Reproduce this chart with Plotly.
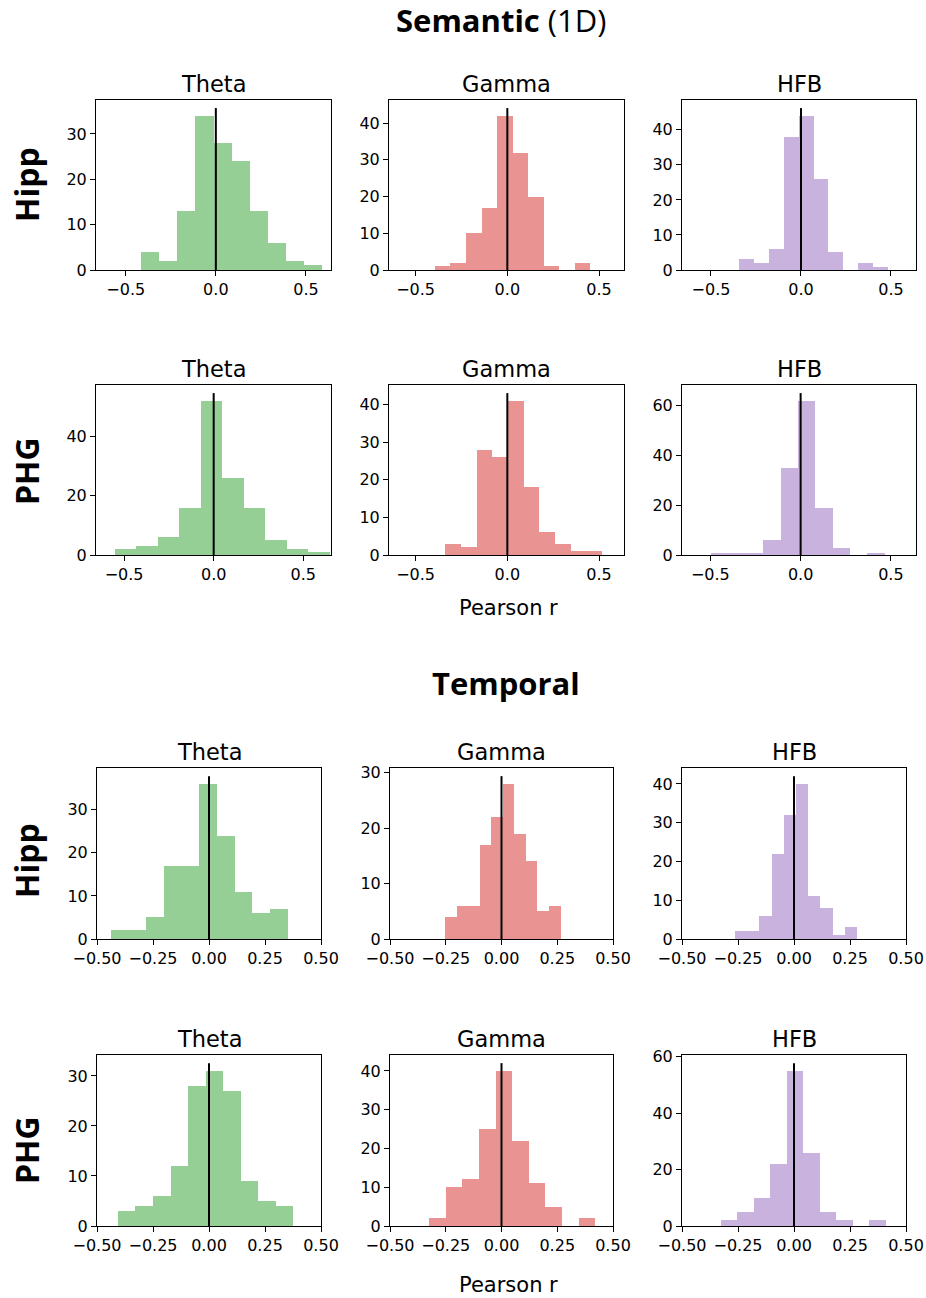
import plotly.graph_objects as go

# ---------------- data ----------------
bands = ["Theta", "Gamma", "HFB"]
regions = ["Hipp", "PHG"]
band_colors = ["rgba(44,160,44,0.5)", "rgba(214,39,40,0.5)", "rgba(148,103,189,0.5)"]

# Semantic (1D) – Hipp
sem_hipp_theta_start, sem_hipp_theta_width = -0.415, 0.1005
sem_hipp_theta_counts = [4, 2, 13, 34, 28, 24, 13, 6, 2, 1]
sem_hipp_gamma_start, sem_hipp_gamma_width = -0.395, 0.0848
sem_hipp_gamma_counts = [1, 2, 10, 17, 42, 32, 20, 1, 0, 2]
sem_hipp_hfb_start, sem_hipp_hfb_width = -0.344, 0.0828
sem_hipp_hfb_counts = [3, 2, 6, 38, 44, 26, 5, 0, 2, 1]
# Semantic (1D) – PHG
sem_phg_theta_start, sem_phg_theta_width = -0.553, 0.120
sem_phg_theta_counts = [2, 3, 6, 16, 52, 26, 16, 5, 2, 1]
sem_phg_gamma_start, sem_phg_gamma_width = -0.338, 0.0855
sem_phg_gamma_counts = [3, 2, 28, 26, 41, 18, 6, 3, 1, 1]
sem_phg_hfb_start, sem_phg_hfb_width = -0.495, 0.0960
sem_phg_hfb_counts = [1, 1, 1, 6, 35, 62, 19, 3, 0, 1]

# Temporal – Hipp
tmp_hipp_theta_start, tmp_hipp_theta_width = -0.437, 0.0788
tmp_hipp_theta_counts = [2, 2, 5, 17, 17, 36, 24, 11, 6, 7]
tmp_hipp_gamma_start, tmp_hipp_gamma_width = -0.253, 0.0518
tmp_hipp_gamma_counts = [4, 6, 6, 17, 22, 28, 19, 14, 5, 6]
tmp_hipp_hfb_start, tmp_hipp_hfb_width = -0.264, 0.0546
tmp_hipp_hfb_counts = [2, 2, 6, 22, 32, 40, 11, 8, 1, 3]
# Temporal – PHG
tmp_phg_theta_start, tmp_phg_theta_width = -0.407, 0.0784
tmp_phg_theta_counts = [3, 4, 6, 12, 28, 31, 27, 9, 5, 4]
tmp_phg_gamma_start, tmp_phg_gamma_width = -0.325, 0.0746
tmp_phg_gamma_counts = [2, 10, 12, 25, 40, 22, 11, 5, 0, 2]
tmp_phg_hfb_start, tmp_phg_hfb_width = -0.328, 0.0737
tmp_phg_hfb_counts = [2, 5, 10, 22, 55, 26, 5, 2, 0, 2]

sem_xticks = [-0.5, 0.0, 0.5]
sem_xticklabels = ["\u22120.5", "0.0", "0.5"]
tmp_xticks = [-0.5, -0.25, 0.0, 0.25, 0.5]
tmp_xticklabels = ["\u22120.50", "\u22120.25", "0.00", "0.25", "0.50"]

# ---------------- layout geometry (pixels) ----------------
W, H = 926, 1298
sem_cols = [(96, 331), (389, 624), (682, 916)]
sem_rows = [(100, 270), (385, 555)]
tmp_cols = [(97, 321), (390, 613), (682, 906)]
tmp_rows = [(768, 939), (1055, 1226)]
sem_xranges = [[-0.665, 0.639], [-0.645, 0.636], [-0.661, 0.639],
               [-0.657, 0.655], [-0.645, 0.636], [-0.657, 0.639]]

panels = [
    ("sem", 0, 0, sem_hipp_theta_start, sem_hipp_theta_width, sem_hipp_theta_counts),
    ("sem", 0, 1, sem_hipp_gamma_start, sem_hipp_gamma_width, sem_hipp_gamma_counts),
    ("sem", 0, 2, sem_hipp_hfb_start, sem_hipp_hfb_width, sem_hipp_hfb_counts),
    ("sem", 1, 0, sem_phg_theta_start, sem_phg_theta_width, sem_phg_theta_counts),
    ("sem", 1, 1, sem_phg_gamma_start, sem_phg_gamma_width, sem_phg_gamma_counts),
    ("sem", 1, 2, sem_phg_hfb_start, sem_phg_hfb_width, sem_phg_hfb_counts),
    ("tmp", 0, 0, tmp_hipp_theta_start, tmp_hipp_theta_width, tmp_hipp_theta_counts),
    ("tmp", 0, 1, tmp_hipp_gamma_start, tmp_hipp_gamma_width, tmp_hipp_gamma_counts),
    ("tmp", 0, 2, tmp_hipp_hfb_start, tmp_hipp_hfb_width, tmp_hipp_hfb_counts),
    ("tmp", 1, 0, tmp_phg_theta_start, tmp_phg_theta_width, tmp_phg_theta_counts),
    ("tmp", 1, 1, tmp_phg_gamma_start, tmp_phg_gamma_width, tmp_phg_gamma_counts),
    ("tmp", 1, 2, tmp_phg_hfb_start, tmp_phg_hfb_width, tmp_phg_hfb_counts),
]

MPL = "DejaVu Sans"
LABEL = "Open Sans"


def px_x(x):
    return x / W


def px_y(y):
    return 1 - y / H


fig = go.Figure()
layout = {}
annotations = []

for i, (block, r, c, start, width, counts) in enumerate(panels):
    n = i + 1
    xa = "x" if n == 1 else f"x{n}"
    ya = "y" if n == 1 else f"y{n}"
    cols = sem_cols if block == "sem" else tmp_cols
    rows = sem_rows if block == "sem" else tmp_rows
    x0, x1 = cols[c]
    y0, y1 = rows[r]

    centers = [start + width * (k + 0.5) for k in range(len(counts))]
    fig.add_trace(go.Bar(
        x=centers, y=counts, width=[width] * len(counts),
        marker=dict(color=band_colors[c], line=dict(width=0)),
        xaxis=xa, yaxis=ya, showlegend=False, hoverinfo="x+y",
    ))
    ymax = max(counts)
    fig.add_trace(go.Scatter(
        x=[0, 0], y=[0, ymax * 1.05], mode="lines",
        line=dict(color="black", width=2),
        xaxis=xa, yaxis=ya, showlegend=False, hoverinfo="skip",
    ))

    if block == "sem":
        xr = sem_xranges[i]
        tv, tt = sem_xticks, sem_xticklabels
    else:
        xr = [-0.5, 0.5]
        tv, tt = tmp_xticks, tmp_xticklabels

    axis_common = dict(
        showline=True, linecolor="black", linewidth=1, mirror=True,
        ticks="outside", ticklen=5, tickwidth=1, tickcolor="black",
        showgrid=False, zeroline=False, automargin=False,
        tickfont=dict(family=MPL, size=16, color="black"),
    )
    layout[f"xaxis{n if n > 1 else ''}"] = dict(
        domain=[px_x(x0), px_x(x1)], anchor=ya, range=xr,
        tickvals=tv, ticktext=tt, **axis_common,
    )
    dt = 20 if ymax > 50 else 10
    layout[f"yaxis{n if n > 1 else ''}"] = dict(
        domain=[px_y(y1), px_y(y0)], anchor=xa, range=[0, ymax * 1.1025],
        dtick=dt, tick0=0, **axis_common,
    )
    # panel title
    annotations.append(dict(
        x=px_x((x0 + x1) / 2), y=px_y(y0), xref="paper", yref="paper",
        text=bands[c], showarrow=False, xanchor="center", yanchor="bottom",
        yshift=1, font=dict(family=MPL, size=22.5, color="black"),
    ))

# Block titles
annotations.append(dict(
    x=px_x(501), y=px_y(20), xref="paper", yref="paper",
    text="<b>Semantic</b> (1D)", showarrow=False, xanchor="center", yanchor="middle",
    font=dict(family=LABEL, size=31, color="black"),
))
annotations.append(dict(
    x=px_x(506), y=px_y(683), xref="paper", yref="paper",
    text="<b>Temporal</b>", showarrow=False, xanchor="center", yanchor="middle",
    font=dict(family=LABEL, size=31, color="black"),
))
# Row labels
for yc, lab in [(185, "Hipp"), (471, "PHG"), (861, "Hipp"), (1150, "PHG")]:
    annotations.append(dict(
        x=px_x(26), y=px_y(yc), xref="paper", yref="paper",
        text=f"<b>{lab}</b>", showarrow=False, textangle=-90,
        xanchor="center", yanchor="middle",
        font=dict(family=LABEL, size=32, color="black"),
    ))
# x-axis labels
for yc in [608, 1285]:
    annotations.append(dict(
        x=px_x(508), y=px_y(yc), xref="paper", yref="paper",
        text="Pearson r", showarrow=False, xanchor="center", yanchor="middle",
        font=dict(family=MPL, size=21, color="black"),
    ))

fig.update_layout(
    width=W, height=H, margin=dict(l=0, r=0, t=0, b=0),
    paper_bgcolor="white", plot_bgcolor="white",
    bargap=0, annotations=annotations, **layout,
)

fig.write_html("out.html", config={"displayModeBar": False},
               post_script="document.body.style.margin='0';")
